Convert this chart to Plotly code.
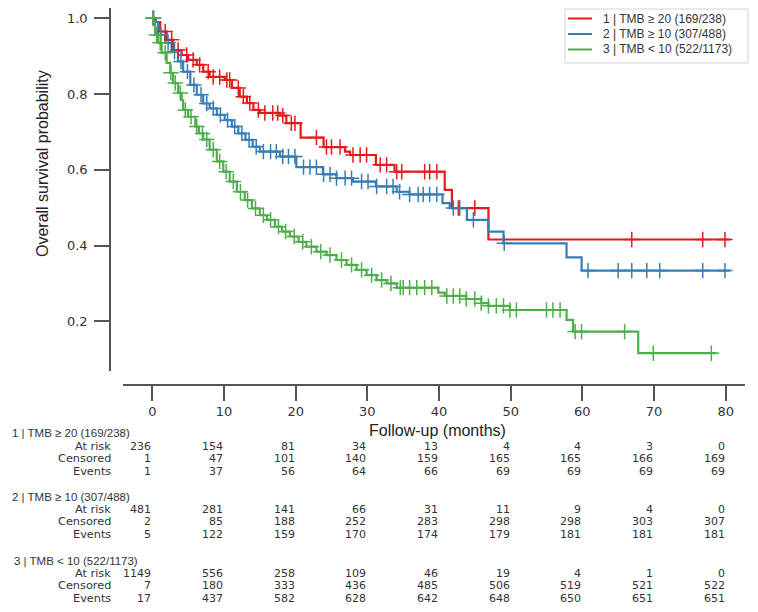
import numpy as np
import plotly.graph_objects as go

W, H = 758, 612
OFF = 8  # page body margin offset

group_names = ["1 | TMB ≥ 20 (169/238)", "2 | TMB ≥ 10 (307/488)", "3 | TMB < 10 (522/1173)"]
colors = ["#e41a1c", "#377eb8", "#4daf4a"]

# Kaplan-Meier step data (time in months, survival probability)
times_g1 = [0, 0.5, 1.1, 2.0, 2.9, 4.1, 5.0, 6.2, 7.1, 8.0, 10.1, 11.1, 12.2, 13.2, 14.1, 15.0,
            17.8, 18.7, 20.7, 23.9, 26.9, 27.6, 31.2, 33.8, 40.8, 41.8, 46.9, 80.6]
surv_g1 = [1.0, 0.99, 0.965, 0.943, 0.916, 0.903, 0.89, 0.877, 0.859, 0.845, 0.837, 0.816, 0.793,
           0.776, 0.758, 0.75, 0.743, 0.723, 0.685, 0.66, 0.648, 0.639, 0.613, 0.595, 0.547, 0.499,
           0.416, 0.416]
censor_g1 = [0.1, 1.8, 2.7, 3.6, 4.8, 5.7, 6.6, 7.8, 8.5, 9.4, 10.4, 10.8, 12.0, 12.7, 13.6, 14.8,
             15.7, 16.8, 17.5, 18.2, 19.4, 19.9, 22.9, 24.3, 25.0, 26.2, 28.0, 29.0, 29.9, 31.8,
             32.7, 34.1, 34.8, 38.0, 38.7, 39.7, 42.7, 45.0, 66.9, 76.8, 79.9]

times_g2 = [0, 0.3, 0.8, 1.8, 2.7, 3.6, 4.3, 5.3, 6.2, 7.1, 8.0, 9.0, 10.1, 11.1, 12.0, 13.0, 14.0,
            15.0, 17.8, 20.1, 23.8, 25.7, 28.0, 31.2, 34.1, 35.9, 40.5, 41.5, 43.9, 46.9, 49.0,
            57.8, 59.9, 80.6]
surv_g2 = [1.0, 0.99, 0.956, 0.935, 0.912, 0.886, 0.859, 0.824, 0.798, 0.775, 0.762, 0.745, 0.731,
           0.714, 0.696, 0.679, 0.661, 0.648, 0.635, 0.607, 0.588, 0.578, 0.569, 0.556, 0.542,
           0.535, 0.512, 0.499, 0.468, 0.437, 0.406, 0.369, 0.334, 0.334]
censor_g2 = [0.2, 1.2, 2.2, 3.1, 4.0, 4.9, 5.8, 6.8, 7.6, 8.5, 9.5, 10.5, 11.5, 12.5, 13.5, 14.5,
             15.5, 16.5, 17.3, 18.2, 19.0, 19.9, 21.1, 22.0, 22.9, 23.9, 24.8, 25.7, 26.9, 27.8,
             29.2, 30.1, 31.3, 32.7, 33.6, 34.5, 35.9, 37.1, 37.8, 38.7, 39.7, 42.0, 42.9, 44.8,
             49.1, 60.8, 65.0, 66.9, 69.0, 70.8, 76.8, 79.9]

times_g3 = [0, 0.2, 0.4, 0.8, 1.3, 2.0, 2.5, 2.9, 3.6, 4.1, 4.3, 5.0, 6.0, 6.5, 7.1, 8.0, 9.0, 9.9,
            10.8, 11.8, 12.9, 13.9, 15.0, 16.0, 17.1, 18.1, 19.2, 20.4, 21.5, 22.9, 24.3, 25.7,
            27.1, 28.5, 29.9, 31.3, 32.7, 34.1, 39.9, 40.8, 43.8, 45.9, 46.9, 49.9, 57.8, 58.7,
            67.8, 78.7]
surv_g3 = [1.0, 0.99, 0.956, 0.935, 0.909, 0.882, 0.856, 0.829, 0.803, 0.784, 0.758, 0.74, 0.714,
           0.696, 0.68, 0.653, 0.622, 0.595, 0.569, 0.542, 0.52, 0.498, 0.48, 0.468, 0.45, 0.437,
           0.424, 0.41, 0.397, 0.384, 0.375, 0.362, 0.349, 0.336, 0.322, 0.309, 0.3, 0.289, 0.276,
           0.267, 0.259, 0.248, 0.241, 0.23, 0.204, 0.173, 0.116, 0.116]
censor_g3 = [0.1, 0.6, 1.1, 1.8, 2.6, 3.2, 3.9, 4.6, 5.4, 6.2, 7.0, 7.6, 8.5, 9.4, 10.3, 11.3, 12.3,
             13.3, 14.4, 15.5, 16.5, 17.6, 18.6, 19.8, 21.0, 22.2, 23.5, 24.8, 26.4, 27.8, 29.2,
             30.6, 32.0, 33.3, 34.6, 35.0, 35.9, 36.9, 38.0, 39.0, 41.1, 42.0, 42.9, 43.8, 45.0,
             45.9, 46.9, 48.0, 49.0, 49.9, 50.8, 55.0, 55.9, 56.9, 59.0, 59.9, 65.9, 69.9, 78.0]

# Number-at-risk table
table_times = [0, 10, 20, 30, 40, 50, 60, 70, 80]
at_risk_g1 = [236, 154, 81, 34, 13, 4, 4, 3, 0]
censored_g1 = [1, 47, 101, 140, 159, 165, 165, 166, 169]
events_g1 = [1, 37, 56, 64, 66, 69, 69, 69, 69]
at_risk_g2 = [481, 281, 141, 66, 31, 11, 9, 4, 0]
censored_g2 = [2, 85, 188, 252, 283, 298, 298, 303, 307]
events_g2 = [5, 122, 159, 170, 174, 179, 181, 181, 181]
at_risk_g3 = [1149, 556, 258, 109, 46, 19, 4, 1, 0]
censored_g3 = [7, 180, 333, 436, 485, 506, 519, 521, 522]
events_g3 = [17, 437, 582, 628, 642, 648, 650, 651, 651]

row_labels = ["At risk", "Censored", "Events"]
y_ticks = [0.2, 0.4, 0.6, 0.8, 1.0]
y_ticklabels = ["0.2", "0.4", "0.6", "0.8", "1.0"]

groups = [
    (times_g1, surv_g1, censor_g1, [at_risk_g1, censored_g1, events_g1]),
    (times_g2, surv_g2, censor_g2, [at_risk_g2, censored_g2, events_g2]),
    (times_g3, surv_g3, censor_g3, [at_risk_g3, censored_g3, events_g3]),
]


def step_value(times, surv, t):
    idx = np.searchsorted(np.asarray(times), t, side="right") - 1
    return float(np.asarray(surv)[max(idx, 0)])


fig = go.Figure()
for i, (tt, ss, cc, _) in enumerate(groups):
    fig.add_trace(go.Scatter(x=tt, y=ss, mode="lines", line=dict(color=colors[i], width=2.2, shape="hv"),
                             name=group_names[i], showlegend=False))
for i, (tt, ss, cc, _) in enumerate(groups):
    fig.add_trace(go.Scatter(x=cc, y=[step_value(tt, ss, c) for c in cc], mode="markers",
                             marker=dict(symbol="cross-thin", size=11,
                                         line=dict(color=colors[i], width=1.5)),
                             showlegend=False, hoverinfo="skip"))

px = lambda v: (v - OFF) / W
py = lambda v: 1 - (v - OFF) / H

axis_col = "#555555"
tick_font = dict(family="DejaVu Sans", size=13, color="#333333")

fig.update_layout(
    width=W, height=H,
    margin=dict(l=0, r=0, t=0, b=0),
    paper_bgcolor="white", plot_bgcolor="white",
    font=dict(family="DejaVu Sans", color="#333333"),
    xaxis=dict(domain=[px(123), px(745)], range=[-4.09, 82.7], anchor="free", position=py(385),
               showline=True, linecolor=axis_col, linewidth=1.5, ticks="outside", ticklen=15,
               tickwidth=1.5, tickcolor=axis_col, tickvals=table_times,
               ticktext=[str(t) for t in table_times],
               showgrid=False, zeroline=False, tickfont=tick_font, automargin=False),
    yaxis=dict(domain=[py(371), 1.0], range=[0.069, 1.027], anchor="free", position=px(110),
               showline=True, linecolor=axis_col, linewidth=1.5, ticks="outside", ticklen=15,
               tickwidth=1.5, tickcolor=axis_col, tickvals=y_ticks, ticktext=y_ticklabels,
               ticklabelstandoff=4,
               showgrid=False, zeroline=False, tickfont=tick_font, automargin=False),
    showlegend=False,
)

shapes = []
annotations = []

# Legend (drawn manually to match the compact spacing)
legend_font = dict(family="Liberation Sans, Arial", size=12, color="#333333")
shapes.append(dict(type="rect", xref="paper", yref="paper", x0=px(565), x1=px(748), y0=py(63), y1=py(9),
                   line=dict(color="#d4d4d4", width=1), fillcolor="white", layer="above"))
legend_y = [18.5, 34, 49.5]
for i in range(3):
    shapes.append(dict(type="line", xref="paper", yref="paper", x0=px(568), x1=px(592),
                       y0=py(legend_y[i]), y1=py(legend_y[i]), line=dict(color=colors[i], width=2),
                       layer="above"))
    annotations.append(dict(text=group_names[i], x=px(601), y=py(legend_y[i]), xref="paper", yref="paper",
                            xanchor="left", yanchor="middle", showarrow=False, font=legend_font))

annotations.append(dict(text="Follow-up (months)", x=px(437), y=py(430), xref="paper", yref="paper",
                        xanchor="center", yanchor="middle", showarrow=False,
                        font=dict(family="Liberation Sans, Arial", size=16, color="#222222")))
annotations.append(dict(text="Overall survival probability", x=px(42), y=py(164), xref="paper",
                        yref="paper", xanchor="center", yanchor="middle", showarrow=False, textangle=-90,
                        font=dict(family="Liberation Sans, Arial", size=16, color="#222222")))

header_y = [433, 497, 561]
header_x = [10, 10, 12]
row_y = [[446, 458.5, 471], [509, 521.5, 534], [573, 585.5, 598]]
for g, (_, _, _, rows) in enumerate(groups):
    annotations.append(dict(text=group_names[g], x=px(header_x[g]), y=py(header_y[g]), xref="paper",
                            yref="paper", xanchor="left", yanchor="middle", showarrow=False,
                            font=dict(family="Liberation Sans, Arial", size=11.5, color="#333333")))
    for r, vals in enumerate(rows):
        annotations.append(dict(text=row_labels[r], x=px(113), y=py(row_y[g][r]), xref="paper",
                                yref="paper", xanchor="right", yanchor="middle", showarrow=False,
                                font=dict(family="DejaVu Sans", size=11.3, color="#333333")))
        for t, v in zip(table_times, vals):
            annotations.append(dict(text=str(v), x=t, y=py(row_y[g][r]), xref="x", yref="paper",
                                    xanchor="right", yanchor="middle", showarrow=False, xshift=1,
                                    font=dict(family="DejaVu Sans", size=11, color="#333333")))

fig.update_layout(annotations=annotations, shapes=shapes)
fig.write_html("out.html")
